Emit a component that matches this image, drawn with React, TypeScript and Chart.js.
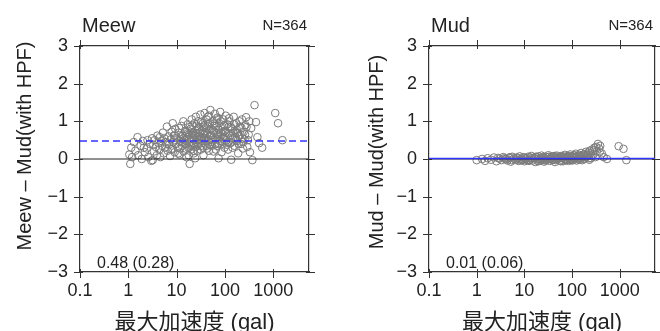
import React, { useEffect, useRef } from 'react';
import { Chart, registerables } from 'chart.js';
Chart.register(...registerables);

const FONT = '"Liberation Sans", Arial, "Noto Sans CJK JP", sans-serif';

const xTicks = [0.1, 1, 10, 100, 1000];
const yTicks = [-3, -2, -1, 0, 1, 2, 3];
const X_MIN = 0.1;
const X_MAX = 5500;
const xTitle = '最大加速度 (gal)';

const meewAcc = [
  1.05, 1.1, 1.15, 1.2, 1.3, 1.4, 1.55, 1.6, 1.8, 1.9, 2.0, 2.2, 2.4, 2.6, 2.8, 3.0, 3.1, 3.2,
  3.4, 3.5, 3.7, 3.9, 4.0, 4.2, 4.4, 4.6, 4.8, 5.0, 5.2, 5.4, 5.6, 5.8, 6.0, 6.3, 6.5, 6.8, 7.0, 7.3, 7.6, 7.9, 8.2, 8.5, 8.8, 9.1, 9.4, 9.7,
  10, 10.5, 11, 11.5, 12, 12.5, 13, 13.5, 14, 14.5, 15, 15.5, 16, 16.5, 17, 17.5, 18, 18.6, 19, 19.5,
  20, 20.5, 21, 21.5, 22, 22.5, 23, 23.5, 24, 24.5, 25, 25.5, 26, 26.5, 27, 27.5, 28, 28.5, 29, 29.5,
  30, 31, 32, 33, 34, 35, 36, 37, 38, 39, 40, 41, 42, 43, 44, 45, 46, 47, 48, 49,
  50, 52, 54, 56, 58, 60, 62, 64, 66, 68, 70, 72, 74, 76, 78, 80, 83, 86, 89, 92, 95, 98,
  100, 104, 108, 112, 116, 120, 125, 130, 135, 140, 146, 152, 158, 165, 172, 180, 188, 196,
  205, 215, 225, 235, 245, 255, 265, 275, 290,
  310, 330, 350, 370, 410, 440, 470, 510, 590, 1100, 1260, 1550,
  12.2, 14.8, 16.2, 18.3, 20.8, 22.8, 24.8, 26.8, 29.8, 33.5, 36.5, 39.5, 43.5, 47.5, 51, 55, 59, 63, 67, 71,
  75, 81, 87, 93, 102, 110, 118, 128, 138, 150, 162, 176, 192, 210, 230, 6.2, 7.8, 8.9, 11.8, 15.8,
  8.3, 9.2, 10.8, 11.3, 12.8, 13.8, 14.2, 15.3, 16.8, 17.8, 18.8, 19.8, 21.3, 22.3, 23.3, 24.2, 25.8, 27.3, 28.8, 31.5,
  32.5, 34.5, 35.5, 37.5, 38.5, 41.5, 42.5, 44.5, 46.5, 48.5, 53, 57, 61, 65, 69, 73, 77, 82, 85, 90,
  97, 106, 114, 122, 133, 144, 156, 168, 184, 200, 220, 240, 260, 280, 300, 320, 2.1, 2.5, 3.3, 4.5,
];
const meewDiff = [
  0.12, -0.13, 0.30, 0.05, 0.45, 0.22, 0.58, 0.10, 0.35, 0.00, 0.48, 0.18, 0.28, 0.05, 0.40, -0.05, 0.55, -0.03,
  0.20, 0.50, 0.32, 0.10, 0.62, 0.42, 0.25, 0.05, 0.48, 0.35, 0.70, 0.15, 0.55, 0.30, 0.45, 0.86, 0.22, 0.60, 0.38, 0.08, 0.52, 0.72, 0.28, 0.45, 0.62, 0.18, 0.80, 0.40,
  0.55, 0.30, 0.70, 0.12, 0.48, 0.88, 0.35, 0.62, 0.20, 0.50, 0.75, 0.40, 0.05, 0.58, 0.92, 0.30, 0.65, -0.13, 0.45, 0.80,
  0.25, 1.05, 0.55, 0.38, 0.70, 0.15, 0.50, 0.95, 0.62, 0.32, 1.12, 0.45, 0.78, 0.58, 0.22, 0.68, 1.00, 0.40, 0.85, 0.52,
  0.60, 1.18, 0.35, 0.75, 0.48, 0.95, 0.10, 0.65, 1.22, 0.42, 0.82, 0.55, 1.05, 0.28, 0.70, 0.92, 0.50, 1.15, 0.38, 0.62,
  1.30, 0.80, 0.45, 1.00, 0.20, 0.72, 1.20, 0.55, 0.88, 0.35, 1.10, 0.65, 0.02, 0.95, 0.48, 1.25, 0.70, 0.40, 0.85, 1.05, 0.58, 0.30,
  0.75, 1.15, 0.50, 0.92, 0.25, 0.68, 1.00, 0.42, -0.02, 0.80, 0.55, 1.12, 0.35, 0.70, 0.95, 0.48, 0.15, 0.62,
  0.85, 0.40, 1.05, 0.28, 0.72, 0.52, 0.90, 1.11, 0.32,
  0.65, 0.18, 0.82, -0.03, 1.43, 0.98, 0.58, 0.42, 0.30, 1.22, 0.95, 0.50,
  0.60, 0.42, 0.72, 0.52, 0.68, 0.40, 0.75, 0.50, 0.70, 0.58, 0.85, 0.70, 0.48, 0.78, 0.62, 0.50, 0.88, 0.40, 0.68, 0.52,
  0.78, 0.60, 0.45, 0.72, 0.60, 0.38, 0.85, 0.62, 0.45, 0.70, 0.58, 0.78, 0.40, 0.65, 0.55, 0.40, 0.25, 0.50, 0.28, 0.62,
  0.95, 0.62, 0.15, 0.82, 0.45, 1.00, 0.55, 0.28, 0.68, 0.10, 0.85, 0.35, 0.90, 0.22, 0.65, 0.02, 0.88, 0.35, 0.60, 0.25,
  0.98, 0.68, 0.30, 0.55, 0.90, 0.35, 0.65, 1.12, 0.22, 0.95, 0.35, 0.75, 0.95, 0.25, 1.05, 0.40, 0.62, 1.00, 0.18, 0.55,
  0.90, 0.70, 0.45, 1.08, 0.85, 0.30, 0.92, 0.50, 0.70, 1.00, 0.82, 0.45, 0.65, 0.85, 0.50, 1.00, 0.30, 0.50, 0.38, 0.58,
];

const mudAcc = [
  1.0, 1.3, 1.5, 1.7, 2.0, 2.3, 2.6, 3.0, 3.3, 3.6, 4.0, 4.4, 4.8, 5.2, 5.6, 6.0, 6.5, 7.0, 7.5, 8.0, 8.5, 9.0, 9.5,
  10, 11, 12, 13, 14, 15, 16, 17, 18, 19, 20, 21, 22, 23, 24, 25, 26, 27, 28, 29, 30, 32, 34, 36, 38, 40, 42, 44, 46, 48,
  50, 53, 56, 59, 62, 65, 68, 71, 74, 77, 80, 84, 88, 92, 96,
  100, 105, 110, 115, 120, 125, 130, 136, 142, 148, 155, 162, 170, 178, 186, 195,
  205, 215, 225, 235, 245, 255, 265, 280, 295, 310, 330, 350, 370, 390, 420, 460, 540, 950, 1200, 1380,
  3.8, 6.8, 11.5, 13.5, 16.5, 19.5, 24.5, 31, 37, 45, 52, 60, 72, 86, 98, 118, 140, 165, 190, 230,
  2.8, 4.2, 5.0, 5.4, 7.2, 8.2, 9.8, 10.5, 12.5, 14.5, 17.5, 20.5, 22.5, 27.5, 33, 35, 39, 43, 47, 55,
  58, 64, 70, 76, 82, 90, 94, 103, 112, 122, 133, 145, 158, 175, 200, 220, 250, 285, 320, 380,
];
const mudDiff = [
  -0.03, 0.00, -0.05, 0.02, -0.02, 0.04, -0.06, 0.01, -0.03, 0.05, 0.00, -0.04, 0.03, -0.07, 0.06, 0.01, -0.02, 0.04, -0.05, 0.07, 0.00, -0.03, 0.05,
  -0.06, 0.02, 0.06, -0.02, 0.08, -0.04, 0.03, -0.08, 0.05, 0.00, 0.07, -0.05, 0.03, 0.09, -0.02, 0.05, -0.07, 0.01, 0.06, -0.03, 0.04, 0.10, -0.05, 0.02, 0.07, -0.02, 0.05, -0.08, 0.03, 0.09,
  0.00, 0.06, -0.04, 0.08, 0.02, -0.06, 0.05, 0.11, -0.02, 0.04, 0.08, -0.05, 0.03, 0.12, 0.00,
  0.06, -0.03, 0.09, 0.02, 0.14, -0.04, 0.07, 0.03, 0.11, -0.02, 0.16, 0.05, 0.09, 0.00, 0.13, 0.19,
  0.06, 0.10, 0.02, 0.22, 0.15, 0.08, 0.25, 0.12, 0.30, 0.05, 0.20, 0.40, 0.28, 0.35, 0.15, 0.05, 0.00, 0.34, 0.27, -0.03,
  0.02, -0.01, -0.03, 0.04, 0.01, -0.06, 0.02, -0.01, 0.04, -0.03, 0.02, 0.05, -0.01, 0.03, -0.04, 0.04, 0.01, -0.03, 0.04, -0.02,
  0.03, -0.01, 0.05, -0.03, 0.02, -0.04, 0.03, 0.00, -0.05, 0.02, 0.06, -0.02, 0.00, -0.04, 0.06, 0.00, -0.03, 0.08, -0.01, 0.03,
  -0.06, 0.07, 0.00, -0.03, 0.05, 0.08, -0.02, 0.04, 0.10, 0.06, -0.01, 0.08, 0.03, 0.12, 0.10, 0.17, 0.02, 0.22, 0.32, 0.18,
];

interface PanelCfg {
  title: string;
  yTitle: string;
  n: string;
  stat: string;
  mean: number;
  dashed: boolean;
  acc: number[];
  diff: number[];
  leftW: number;
  rightW: number;
  yTitleX: number;
  yTitleY: number;
}

const panels: PanelCfg[] = [
  { title: 'Meew', yTitle: 'Meew – Mud(with HPF)', n: 'N=364', stat: '0.48 (0.28)', mean: 0.48, dashed: true,
    acc: meewAcc, diff: meewDiff, leftW: 80, rightW: 21, yTitleX: 25, yTitleY: 146 },
  { title: 'Mud', yTitle: 'Mud – Mud(with HPF)', n: 'N=364', stat: '0.01 (0.06)', mean: 0.01, dashed: false,
    acc: mudAcc, diff: mudDiff, leftW: 99, rightW: 4, yTitleX: 47, yTitleY: 152 },
];

const makeTextPlugin = (cfg: PanelCfg) => ({
  id: 'texts',
  afterDraw(chart: any) {
    const { ctx, chartArea, scales } = chart;
    const { left, right, top, bottom } = chartArea;
    ctx.save();
    ctx.strokeStyle = '#333';
    ctx.lineWidth = 1;
    ctx.beginPath();
    xTicks.forEach((v) => {
      const px = Math.round(scales.x.getPixelForValue(v)) + 0.5;
      ctx.moveTo(px, bottom - 3);
      ctx.lineTo(px, bottom + 6);
      ctx.moveTo(px, top - 6);
      ctx.lineTo(px, top + 3);
    });
    yTicks.forEach((v) => {
      const py = Math.round(scales.y.getPixelForValue(v)) + 0.5;
      ctx.moveTo(left - 6, py);
      ctx.lineTo(left + 3, py);
      ctx.moveTo(right - 3, py);
      ctx.lineTo(right + 6, py);
    });
    ctx.stroke();

    ctx.fillStyle = '#222';
    ctx.textBaseline = 'alphabetic';
    ctx.font = `20px ${FONT}`;
    ctx.textAlign = 'left';
    ctx.fillText(cfg.title, left + 2, 32);
    ctx.font = `15px ${FONT}`;
    ctx.textAlign = 'right';
    ctx.fillText(cfg.n, right - 2, 30);
    ctx.font = `16px ${FONT}`;
    ctx.textAlign = 'left';
    ctx.fillText(cfg.stat, left + 17, bottom - 4);
    ctx.font = `22px ${FONT}`;
    ctx.textAlign = 'center';
    ctx.fillText(xTitle, (left + right) / 2, 329);

    ctx.translate(cfg.yTitleX, cfg.yTitleY);
    ctx.rotate(-Math.PI / 2);
    ctx.font = `20px ${FONT}`;
    ctx.textBaseline = 'middle';
    ctx.fillText(cfg.yTitle, 0, 0);
    ctx.restore();
  },
});

function Panel({ cfg }: { cfg: PanelCfg }) {
  const ref = useRef<HTMLCanvasElement>(null);
  useEffect(() => {
    const tickFont = { size: 18, family: FONT };
    const borderOpt = { display: true, color: '#333', width: 1.2 };
    const gridOpt = { display: true, drawOnChartArea: false, drawTicks: false };
    const chart = new Chart(ref.current as HTMLCanvasElement, {
      type: 'scatter',
      data: {
        datasets: [
          {
            type: 'line',
            data: [{ x: X_MIN, y: 0 }, { x: X_MAX, y: 0 }],
            borderColor: '#222',
            borderWidth: 1.2,
            pointRadius: 0,
            order: 1,
          } as any,
          {
            type: 'line',
            data: [{ x: X_MIN, y: cfg.mean }, { x: X_MAX, y: cfg.mean }],
            borderColor: '#3434ff',
            borderWidth: 1.5,
            borderDash: cfg.dashed ? [7, 4] : [],
            pointRadius: 0,
            order: 0,
          } as any,
          {
            data: cfg.acc.map((x, i) => ({ x, y: cfg.diff[i] })),
            pointRadius: 3.8,
            pointStyle: 'circle',
            borderColor: '#7c7c7c',
            backgroundColor: 'rgba(0,0,0,0)',
            borderWidth: 1,
            order: 2,
          },
        ],
      },
      options: {
        responsive: false,
        animation: false,
        events: [],
        layout: { padding: 0 },
        plugins: { legend: { display: false }, tooltip: { enabled: false } },
        scales: {
          x: {
            type: 'logarithmic',
            position: 'bottom',
            min: X_MIN,
            max: X_MAX,
            afterBuildTicks: (s: any) => { s.ticks = xTicks.map((v) => ({ value: v })); },
            afterFit: (s: any) => { s.height = 59; },
            ticks: { autoSkip: false, maxRotation: 0, padding: 8, font: tickFont, color: '#222', callback: (v: any) => String(v) },
            grid: gridOpt,
            border: borderOpt,
          },
          x2: {
            type: 'logarithmic',
            position: 'top',
            min: X_MIN,
            max: X_MAX,
            afterBuildTicks: (s: any) => { s.ticks = xTicks.map((v) => ({ value: v })); },
            afterFit: (s: any) => { s.height = 46; },
            ticks: { display: false },
            grid: gridOpt,
            border: borderOpt,
          },
          y: {
            type: 'linear',
            position: 'left',
            min: -3,
            max: 3,
            afterBuildTicks: (s: any) => { s.ticks = yTicks.map((v) => ({ value: v })); },
            afterFit: (s: any) => { s.width = cfg.leftW; },
            ticks: { padding: 12, font: tickFont, color: '#222', callback: (v: any) => (v < 0 ? '\u2212' + Math.abs(v) : String(v)) },
            grid: gridOpt,
            border: borderOpt,
          },
          y2: {
            type: 'linear',
            position: 'right',
            min: -3,
            max: 3,
            afterFit: (s: any) => { s.width = cfg.rightW; },
            ticks: { display: false },
            grid: gridOpt,
            border: borderOpt,
          },
        },
      } as any,
      plugins: [makeTextPlugin(cfg)],
    });
    return () => chart.destroy();
  }, [cfg]);
  return <canvas ref={ref} width={330} height={331} style={{ display: 'block', width: 330, height: 331 }} />;
}

export default function App() {
  return (
    <div style={{ position: 'fixed', left: 0, top: 0, width: 660, height: 331, display: 'flex', background: '#fff' }}>
      <Panel cfg={panels[0]} />
      <Panel cfg={panels[1]} />
    </div>
  );
}
